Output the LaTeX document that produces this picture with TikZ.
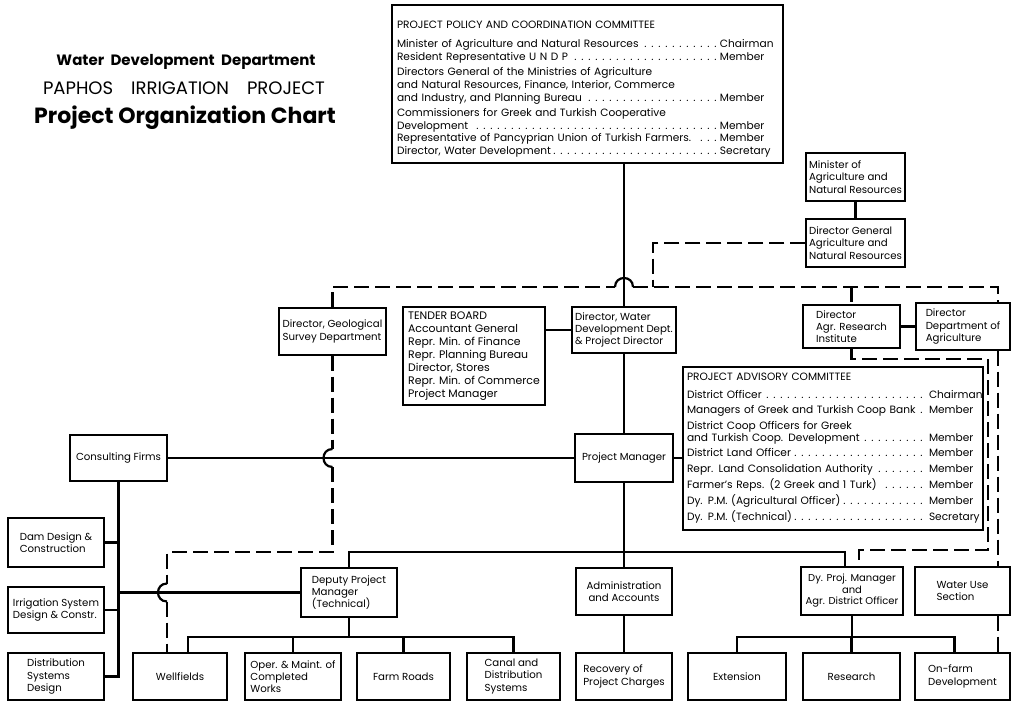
\documentclass[tikz,border=0pt]{standalone}
\usepackage{fontspec}
\setmainfont{Poppins}
\usepackage{tikz}
\newcommand{\orgbox}[7][align=left]{
\node[unit,#1,minimum width={(#5-#3)*1pt},minimum height={(#6-#4)*1pt}] (#2) at ({.5*#3+.5*#5},{.5*#4+.5*#6}) {#7};
}
\newcommand{\hopup}[1]{\draw[hopline] ([xshift=-9pt]#1) .. controls +(0pt,12pt) and +(0pt,12pt) .. ([xshift=9pt]#1);}
\newcommand{\hopleft}[1]{\draw[hopline] ([yshift=9pt]#1) .. controls +(-12pt,0pt) and +(-12pt,0pt) .. ([yshift=-9pt]#1);}
\newcommand{\lead}{\leaders\hbox to 7pt{\hss.\hss}\hskip 0pt plus 1fill\relax}
\newcommand{\role}[2][58pt]{\makebox[#1][l]{#2}}

\begin{document}
\begin{tikzpicture}[x=1pt,y=-1pt,
  unit/.style={draw,line width=1.1pt,inner sep=2pt,font=\fontsize{10.2}{12.3}\selectfont},
  solidline/.style={line width=2.6pt},
  dashline/.style={line width=2.6pt,dash pattern=on 15pt off 6pt},
  hopline/.style={line width=2.2pt}]
\useasboundingbox (0,0) rectangle (1011,702);

% title
\node[font=\bfseries\fontsize{15}{17}\selectfont] (dept) at (186,62) {Water\ \ Development\ \ Department};
\node[font=\fontsize{18}{20}\selectfont] (proj) at (184,88) {PAPHOS\hspace{18pt}IRRIGATION\hspace{18pt}PROJECT};
\node[font=\bfseries\fontsize{22}{26}\selectfont] (chart) at (185,118) {Project Organization Chart};

% committees
\orgbox[text width=381pt,inner sep=5pt,align=left,font=\fontsize{10.6}{12.8}\selectfont]{policy}{392}{5}{783}{163}{\rule{0pt}{18pt}PROJECT\ POLICY\ AND\ COORDINATION\ COMMITTEE\\[6pt]
Minister of Agriculture and Natural Resources\lead\role{Chairman}\\
Resident Representative U N D P\lead\role{Member}\\[3pt]
Directors General of the Ministries of Agriculture\\
and Natural Resources, Finance, Interior, Commerce\\
and Industry, and Planning Bureau\lead\role{Member}\\[2pt]
Commissioners for Greek and Turkish Cooperative\\
Development\lead\role{Member}\\
Representative of Pancyprian Union of Turkish Farmers.\lead\role{Member}\\
Director, Water Development\lead\role{Secretary}}

\orgbox[text width=292pt,inner sep=4pt,align=left,font=\fontsize{10.6}{15.3}\selectfont]{adv}{683}{367}{983}{530}{PROJECT\ ADVISORY\ COMMITTEE\\[2pt]
District Officer\lead\role[50pt]{Chairman}\\
Managers of Greek and Turkish Coop Bank\lead\role[50pt]{Member}\\[1pt]
District Coop Officers for Greek\\[-3.5pt]
and Turkish Coop. Development\lead\role[50pt]{Member}\\
District Land Officer\lead\role[50pt]{Member}\\
Repr. Land Consolidation Authority\lead\role[50pt]{Member}\\[1pt]
Farmer's Reps. (2 Greek and 1 Turk)\lead\role[50pt]{Member}\\[1pt]
Dy. P.M. (Agricultural Officer)\lead\role[50pt]{Member}\\[1pt]
Dy. P.M. (Technical)\lead\role[50pt]{Secretary}}

% upper boxes
\orgbox{mina}{806}{153}{905}{201}{Minister of\\Agriculture and\\Natural Resources}
\orgbox{dg}{806}{219}{905}{267}{Director General\\Agriculture and\\Natural Resources}
\orgbox{geo}{279}{308}{386}{355}{Director, Geological\\Survey Department}
\orgbox[align=left,font=\fontsize{10.9}{13}\selectfont]{tender}{403}{307}{545}{405}{TENDER\ BOARD\\Accountant General\\Repr. Min. of Finance\\Repr. Planning Bureau\\Director, Stores\\Repr. Min. of Commerce\\Project Manager}
\orgbox{dirw}{572}{307}{676}{353}{Director, Water\\Development Dept.\\\& Project Director}
\orgbox{agrres}{803}{305}{900}{348}{Director\\Agr. Research\\Institute}
\orgbox{dagr}{916}{303}{1010}{350}{Director\\Department of\\Agriculture}

% middle boxes
\orgbox{cfirm}{70}{435}{167}{481}{Consulting Firms}
\orgbox{pm}{575}{434}{673}{482}{Project Manager}
\orgbox{dam}{8}{518}{104}{567}{Dam Design \&\\Construction}
\orgbox{irr}{8}{587}{104}{633}{Irrigation System\\Design \& Constr.}
\orgbox{dpmt}{301}{568}{397}{617}{Deputy Project\\Manager\\(Technical)}
\orgbox[align=center]{admin}{576}{568}{672}{615}{Administration\\and Accounts}
\orgbox[align=center,inner sep=1pt,font=\fontsize{10}{11.5}\selectfont]{dyag}{801}{567}{903}{615}{Dy. Proj. Manager\\and\\Agr. District Officer}
\orgbox{water}{915}{567}{1010}{615}{Water Use\\Section}

% bottom boxes
\orgbox{dist}{8}{653}{104}{700}{Distribution\\Systems\\Design}
\orgbox{wellf}{133}{653}{227}{700}{Wellfields}
\orgbox{oper}{245}{653}{341}{700}{Oper. \& Maint. of\\Completed\\Works}
\orgbox{roads}{357}{653}{450}{700}{Farm Roads}
\orgbox{canal}{467}{653}{560}{700}{Canal and\\Distribution\\Systems}
\orgbox{recov}{576}{653}{672}{700}{Recovery of\\Project Charges}
\orgbox{ext}{688}{653}{786}{700}{Extension}
\orgbox{res}{803}{653}{900}{700}{Research}
\orgbox{onfarm}{915}{653}{1010}{700}{On-farm\\Development}

\coordinate (tbar) at (0,637);
\coordinate (pmbar) at (0,552);
\coordinate (hopc) at (624,287);
\coordinate (dgjoin) at (653,287);
\coordinate (rdash) at (998,0);
\coordinate (ldash) at (988,359);
\coordinate (dyagin) at (859,550);
\coordinate (wturn) at (167,552);
\coordinate (hopa) at (geo.south |- cfirm.east);
\coordinate (hopb) at (wturn |- dpmt.west);

% solid lines
\draw[solidline] (policy.south -| dirw.north) -- (dirw.north);
\draw[solidline] (mina) -- (dg);
\draw[solidline] (agrres) -- (dagr);
\draw[solidline] (tender.east |- dirw.west) -- (dirw.west);
\draw[solidline] (dirw) -- (pm);
\draw[solidline] (pm.east) -- (pm.east -| adv.west);
\draw[solidline] (cfirm.east) -- (pm.west);
\draw[solidline] (pm.south) -- (admin.north);
\draw[solidline] (dpmt.north) |- ([xshift=-7pt]dyag.north |- pmbar) -- ([xshift=-7pt]dyag.north);
\draw[solidline] (admin) -- (recov);
\draw[solidline] (cfirm.south) |- (dist.east);
\draw[solidline] (dam.east) -- (dam.east -| cfirm.south);
\draw[solidline] (irr.east) -- (irr.east -| cfirm.south);
\draw[solidline] (dpmt.west -| cfirm.south) -- (dpmt.west);
\draw[solidline] (dpmt.south) -- (dpmt.south |- tbar);
\draw[solidline] ([xshift=8pt]wellf.north) |- (canal.north |- tbar) -- (canal.north);
\draw[solidline] (oper.north) -- (oper.north |- tbar);
\draw[solidline] (roads.north) -- (roads.north |- tbar);
\draw[solidline] (dyag.south) -- (dyag.south |- tbar);
\draw[solidline] (ext.north) |- ([xshift=-8pt]onfarm.north |- tbar) -- ([xshift=-8pt]onfarm.north);
\draw[solidline] (res.north) -- (res.north |- tbar);

% dashed lines
\draw[dashline] (geo.north) |- ([xshift=-9pt]hopc);
\hopup{hopc}
\draw[dashline] ([xshift=9pt]hopc) -| (dagr.north -| rdash);
\draw[dashline] (agrres.north |- hopc) -- (agrres.north);
\draw[dashline] (dg.west) -| (dgjoin);
\draw[dashline] (agrres.south) |- (ldash) |- (dyagin) -- (dyagin |- dyag.north);
\draw[dashline] (dagr.south -| rdash) -- (water.north -| rdash);
\draw[dashline] (water.south -| rdash) -- (onfarm.north -| rdash);
\draw[dashline] (geo.south) -- ([yshift=9pt]hopa);
\hopleft{hopa}
\draw[dashline] ([yshift=-9pt]hopa) |- (wturn) -- ([yshift=9pt]hopb);
\hopleft{hopb}
\draw[dashline] ([yshift=-9pt]hopb) -- (wturn |- wellf.north);
\end{tikzpicture}
\end{document}
